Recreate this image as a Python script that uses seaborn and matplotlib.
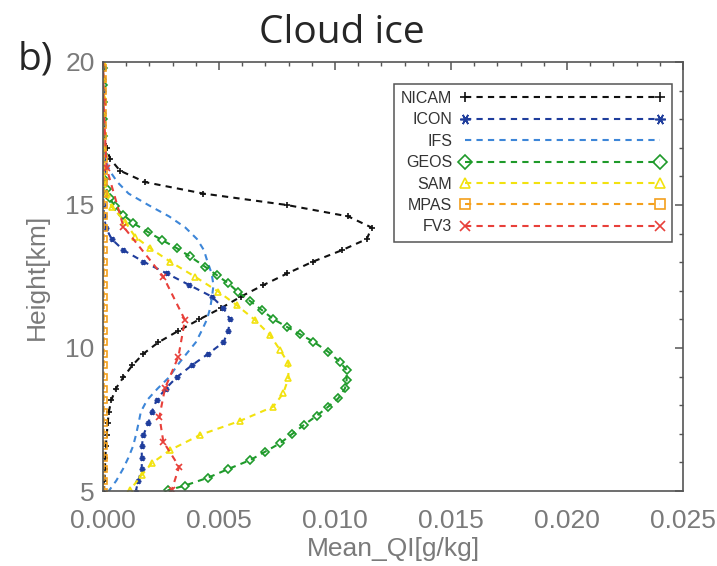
import numpy as np
import pandas as pd
import matplotlib
matplotlib.use("Agg")
import matplotlib.pyplot as plt
import matplotlib.ticker as mticker
import seaborn as sns

# model levels (km) shared by NICAM, ICON, IFS, MPAS
lev = [4.95, 5.36, 5.77, 6.16, 6.56, 6.96, 7.37, 7.77, 8.18, 8.58,
       8.98, 9.39, 9.80, 10.20, 10.60, 11.00, 11.40, 11.80, 12.20, 12.61,
       13.02, 13.42, 13.81, 14.21, 14.60, 15.00, 15.40, 15.80, 16.20, 16.62,
       16.98, 17.40, 17.80, 18.20, 18.60, 19.00, 19.40, 19.80, 20.20]

# mean QI in 1e-3 g/kg
nicam = [0.04, 0.06, 0.08, 0.10, 0.12, 0.16, 0.20, 0.25, 0.36, 0.55,
         0.88, 1.26, 1.74, 2.39, 3.25, 4.15, 5.10, 5.95, 6.91, 7.95,
         9.05, 10.30, 11.37, 11.58, 10.57, 7.92, 4.32, 1.81, 0.73, 0.30,
         0.16, 0.05, 0.02, 0.01, 0.0, 0.0, 0.0, 0.0, 0.0]
icon = [1.40, 1.52, 1.67, 1.67, 1.67, 1.74, 1.95, 2.10, 2.31, 2.70,
        3.18, 3.82, 4.54, 5.19, 5.40, 5.47, 5.19, 4.68, 3.72, 2.74,
        1.74, 0.88, 0.37, 0.12, 0.05, 0.02, 0.0, 0.0, 0.0, 0.0,
        0.0, 0.0, 0.0, 0.0, 0.0, 0.0, 0.0, 0.0, 0.0]
ifs = [0.20, 0.57, 0.86, 1.09, 1.29, 1.42, 1.53, 1.63, 1.90, 2.35,
       2.85, 3.20, 3.60, 4.00, 4.25, 4.48, 4.62, 4.70, 4.76, 4.68,
       4.50, 4.35, 4.05, 3.55, 2.85, 1.95, 1.10, 0.62, 0.28, 0.10,
       0.03, 0.0, 0.0, 0.0, 0.0, 0.0, 0.0, 0.0, 0.0]
mpas = [0.03, 0.03, 0.03, 0.03, 0.03, 0.03, 0.03, 0.03, 0.03, 0.03,
        0.03, 0.03, 0.03, 0.03, 0.03, 0.03, 0.03, 0.03, 0.03, 0.03,
        0.03, 0.03, 0.03, 0.03, 0.03, 0.03, 0.03, 0.03, 0.03, 0.03,
        0.02, 0.02, 0.02, 0.02, 0.02, 0.02, 0.02, 0.02, 0.02]

geos_h = [4.72, 5.03, 5.19, 5.47, 5.77, 6.08, 6.37, 6.67, 6.98, 7.31,
          7.63, 7.95, 8.24, 8.59, 8.88, 9.23, 9.52, 9.87, 10.22, 10.48,
          10.74, 11.01, 11.33, 11.64, 11.95, 12.26, 12.55, 12.84, 13.20, 13.49,
          13.78, 14.05, 14.36, 14.65, 14.95, 15.23, 15.55, 15.90, 16.30, 16.80,
          17.40, 18.00, 18.60, 19.20, 19.80, 20.40]
geos = [2.30, 2.82, 3.53, 4.54, 5.40, 6.34, 6.98, 7.63, 8.13, 8.66,
        9.21, 9.71, 10.14, 10.43, 10.50, 10.50, 10.20, 9.70, 9.07, 8.49,
        7.92, 7.34, 6.84, 6.34, 5.83, 5.40, 4.90, 4.40, 3.75, 3.18,
        2.53, 1.95, 1.31, 0.88, 0.50, 0.30, 0.15, 0.06, 0.02, 0.01,
        0.0, 0.0, 0.0, 0.0, 0.0, 0.0]

sam_h = [4.50, 5.03, 5.56, 5.97, 6.43, 6.96, 7.45, 7.95, 8.42, 8.94,
         9.46, 9.93, 10.45, 10.98, 11.50, 11.97, 12.49, 13.02, 13.49, 13.89,
         14.42, 14.94, 15.40, 15.90, 16.40, 17.00, 17.60, 18.20, 18.80, 19.40,
         20.00, 20.60]
sam = [0.85, 1.16, 1.67, 2.10, 2.89, 4.18, 5.90, 7.34, 7.77, 7.99,
       7.99, 7.63, 7.20, 6.55, 5.76, 4.97, 3.97, 2.89, 2.03, 1.38,
       0.95, 0.37, 0.15, 0.05, 0.02, 0.0, 0.0, 0.0, 0.0, 0.0,
       0.0, 0.0]

fv3_h = [4.25, 5.03, 5.85, 6.72, 7.60, 8.59, 9.70, 10.98, 12.49, 14.24,
         16.30, 18.60, 21.00]
fv3 = [2.40, 2.96, 3.28, 2.60, 2.43, 2.67, 3.25, 3.53, 2.60, 0.88,
       0.15, 0.02, 0.0]

models = ["NICAM", "ICON", "IFS", "GEOS", "SAM", "MPAS", "FV3"]
series = {
    "NICAM": (lev, nicam), "ICON": (lev, icon), "IFS": (lev, ifs),
    "GEOS": (geos_h, geos), "SAM": (sam_h, sam), "MPAS": (lev, mpas),
    "FV3": (fv3_h, fv3),
}
colors = {"NICAM": "#111111", "ICON": "#1f3d9c", "IFS": "#3d86d8",
          "GEOS": "#1e9a2a", "SAM": "#f2e20f", "MPAS": "#f4a01c",
          "FV3": "#e8403a"}
markers = {"NICAM": "+", "ICON": (6, 2, 90), "IFS": "None", "GEOS": "D",
           "SAM": "^", "MPAS": "s", "FV3": "x"}

rows = []
for m in models:
    h, q = series[m]
    for hh, qq in zip(h, q):
        rows.append({"model": m, "height": hh, "qi": qq * 1e-3})
df = pd.DataFrame(rows)

sns.set_style("white")
plt.rcParams["font.family"] = ["Liberation Sans", "DejaVu Sans"]

fig, ax = plt.subplots(figsize=(7.17, 5.66), dpi=100)
fig.subplots_adjust(left=0.1437, right=0.9526, bottom=0.1325, top=0.8905)

for m in models:
    d = df[df["model"] == m]
    filled = m in ("NICAM", "ICON", "FV3")
    sns.lineplot(data=d, x="qi", y="height", ax=ax, sort=False, estimator=None,
                 color=colors[m], marker=markers[m], markersize=4,
                 markerfacecolor=colors[m] if filled else "none",
                 markeredgecolor=colors[m], markeredgewidth=1.2,
                 linestyle=(0, (3, 2.5)), linewidth=1.5, label=m)

ax.set_xlim(0, 0.025)
ax.set_ylim(5, 20)
ax.xaxis.set_major_locator(mticker.MultipleLocator(0.005))
ax.xaxis.set_minor_locator(mticker.MultipleLocator(0.001))
ax.xaxis.set_major_formatter(mticker.FormatStrFormatter("%.3f"))
ax.yaxis.set_major_locator(mticker.MultipleLocator(5))
ax.yaxis.set_minor_locator(mticker.MultipleLocator(1))

grey = "#7a7a7a"
ax.tick_params(which="both", direction="in", top=True, right=True,
               color="#555555", labelcolor=grey, labelsize=19)
ax.tick_params(which="major", length=6, width=1.1)
ax.tick_params(which="minor", length=3, width=1.0)
ax.tick_params(axis="x", pad=13)
ax.tick_params(axis="y", pad=6)
for s in ax.spines.values():
    s.set_color("#555555")
    s.set_linewidth(1.2)

ax.set_xlabel("Mean_QI[g/kg]", fontsize=19, color=grey, labelpad=3)
ax.set_ylabel("Height[km]", fontsize=19, color=grey, labelpad=12)

leg = ax.legend(loc="upper right", bbox_to_anchor=(0.981, 0.949),
                borderaxespad=0, markerfirst=False, numpoints=2,
                handlelength=12.8, handletextpad=0.5, labelspacing=0.4,
                borderpad=0.45, fancybox=False, edgecolor="#555555",
                framealpha=1, markerscale=1.9, prop={"size": 11.5})
leg.get_frame().set_linewidth(1.1)
for t in leg.get_texts():
    t.set_color("#333333")

fig.text(0.477, 0.942, "Cloud ice", ha="center", va="center", fontsize=28,
         family=["Open Sans", "DejaVu Sans"])
fig.text(0.025, 0.895, "b)", ha="left", va="center", fontsize=28,
         family=["Open Sans", "DejaVu Sans"])

fig.savefig("out.png", dpi=100)
